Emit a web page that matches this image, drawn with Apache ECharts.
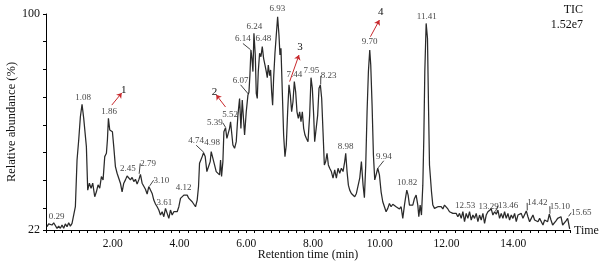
<!DOCTYPE html>
<html>
<head>
<meta charset="utf-8">
<script src="https://cdn.jsdelivr.net/npm/echarts@6/dist/echarts.min.js"></script>
<style>
  html, body { margin: 0; background: #fff; }
  #chart { width: 600px; height: 270px; }
</style>
</head>
<body>
<div id="chart"></div>
<script>
// TIC trace (min, %)
const retentionTime = [
  0.03, 0.08, 0.13, 0.18, 0.23, 0.28, 0.33, 0.38, 0.43, 0.48, 0.53, 0.58, 0.63, 0.68, 0.73, 0.78, 0.83,
  0.88, 0.93, 0.98, 1.03, 1.08, 1.13, 1.17, 1.21, 1.25, 1.30, 1.35, 1.40, 1.46, 1.51, 1.56, 1.61, 1.66,
  1.71, 1.76, 1.81, 1.84, 1.87, 1.91, 1.95, 1.99, 2.03, 2.08, 2.13, 2.18, 2.23, 2.28, 2.33, 2.38, 2.43,
  2.48, 2.53, 2.58, 2.63, 2.68, 2.73, 2.78, 2.83, 2.88, 2.93, 2.98, 3.03, 3.08, 3.13, 3.18, 3.23, 3.28,
  3.33, 3.38, 3.43, 3.48, 3.53, 3.58, 3.63, 3.68, 3.73, 3.78, 3.83, 3.88, 3.93, 3.98, 4.03, 4.08, 4.13,
  4.18, 4.23, 4.28, 4.33, 4.38, 4.43, 4.48, 4.53, 4.57, 4.60, 4.64, 4.68, 4.72, 4.77, 4.82, 4.87, 4.92,
  4.95, 5.00, 5.05, 5.10, 5.15, 5.20, 5.23, 5.26, 5.30, 5.33, 5.38, 5.42, 5.46, 5.50, 5.53, 5.57, 5.60,
  5.65, 5.70, 5.75, 5.80, 5.84, 5.88, 5.92, 5.95, 6.00, 6.05, 6.08, 6.11, 6.14, 6.17, 6.20, 6.23, 6.27,
  6.30, 6.33, 6.36, 6.40, 6.44, 6.48, 6.52, 6.56, 6.60, 6.63, 6.66, 6.70, 6.73, 6.76, 6.79, 6.82, 6.86,
  6.90, 6.94, 6.98, 7.01, 7.04, 7.08, 7.12, 7.16, 7.20, 7.24, 7.28, 7.32, 7.36, 7.40, 7.44, 7.48, 7.52,
  7.56, 7.60, 7.64, 7.68, 7.72, 7.76, 7.80, 7.85, 7.90, 7.94, 7.98, 8.02, 8.05, 8.10, 8.14, 8.18, 8.22,
  8.26, 8.30, 8.34, 8.38, 8.42, 8.46, 8.50, 8.55, 8.60, 8.65, 8.70, 8.75, 8.80, 8.85, 8.90, 8.95, 8.98,
  9.02, 9.06, 9.10, 9.15, 9.20, 9.25, 9.30, 9.35, 9.40, 9.45, 9.50, 9.54, 9.58, 9.62, 9.66, 9.70, 9.73,
  9.77, 9.81, 9.85, 9.89, 9.94, 9.99, 10.04, 10.09, 10.14, 10.19, 10.24, 10.29, 10.34, 10.39, 10.44,
  10.49, 10.54, 10.59, 10.64, 10.69, 10.74, 10.77, 10.81, 10.85, 10.89, 10.94, 10.99, 11.04, 11.09,
  11.14, 11.17, 11.21, 11.25, 11.29, 11.32, 11.35, 11.39, 11.43, 11.46, 11.49, 11.52, 11.55, 11.59,
  11.64, 11.69, 11.74, 11.79, 11.84, 11.89, 11.94, 11.99, 12.04, 12.09, 12.14, 12.19, 12.24, 12.29,
  12.34, 12.39, 12.44, 12.49, 12.54, 12.59, 12.64, 12.69, 12.74, 12.79, 12.84, 12.89, 12.94, 12.99,
  13.04, 13.09, 13.14, 13.19, 13.24, 13.29, 13.34, 13.39, 13.44, 13.49, 13.54, 13.59, 13.64, 13.69,
  13.74, 13.79, 13.84, 13.89, 13.94, 13.99, 14.04, 14.09, 14.14, 14.19, 14.24, 14.29, 14.34, 14.39,
  14.44, 14.49, 14.54, 14.59, 14.64, 14.69, 14.74, 14.79, 14.84, 14.89, 14.94, 14.99, 15.03, 15.08,
  15.13, 15.18, 15.23, 15.28, 15.33, 15.38, 15.43, 15.48, 15.53, 15.58, 15.63, 15.68, 15.69
];
const abundance = [
  23.2, 24.2, 24.6, 23.8, 24.6, 24.4, 22.6, 23.4, 22.6, 23.8, 22.6, 24.2, 23.2, 24.6, 23.4, 24.4, 23.8,
  30.4, 47.3, 54.5, 62.9, 67.4, 62.3, 62.0, 52.1, 36.4, 38.9, 37.1, 38.9, 34.0, 35.8, 38.3, 37.1, 41.3,
  40.1, 48.5, 49.7, 54.5, 62.3, 58.1, 58.7, 57.5, 52.1, 44.9, 42.5, 40.7, 38.9, 35.8, 38.9, 40.1, 41.5,
  41.9, 40.1, 41.0, 39.5, 40.3, 38.6, 40.1, 42.1, 38.9, 38.3, 36.7, 35.0, 37.7, 37.9, 35.2, 32.8, 31.4,
  30.4, 29.2, 27.4, 28.6, 26.8, 29.8, 28.0, 26.2, 29.2, 27.4, 28.6, 28.0, 28.6, 30.4, 33.4, 32.8, 34.6,
  34.0, 34.6, 33.4, 34.0, 32.2, 31.6, 30.4, 32.8, 37.7, 46.1, 47.3, 48.5, 49.9, 48.5, 43.1, 42.5, 46.7,
  50.3, 49.7, 45.5, 43.1, 43.7, 41.9, 47.3, 41.3, 46.7, 57.5, 58.9, 55.1, 56.9, 58.7, 61.1, 56.3, 52.7,
  51.5, 53.9, 63.5, 69.5, 58.7, 68.9, 69.5, 56.3, 64.7, 70.7, 71.7, 78.0, 87.0, 84.0, 79.2, 93.0, 85.2,
  71.3, 69.5, 79.2, 85.8, 84.6, 88.2, 84.0, 81.6, 79.2, 77.0, 81.6, 77.7, 79.8, 71.9, 67.1, 76.8, 85.8,
  92.4, 99.0, 92.4, 85.2, 87.6, 71.9, 56.3, 48.5, 52.7, 64.7, 74.4, 70.7, 64.7, 68.3, 75.6, 71.9, 64.7,
  62.3, 64.7, 61.1, 64.7, 58.7, 56.3, 55.1, 53.9, 63.5, 77.0, 73.2, 63.5, 53.9, 54.5, 63.5, 73.2, 74.4,
  69.5, 57.5, 45.5, 46.7, 49.7, 45.5, 44.3, 43.1, 40.7, 43.7, 40.7, 44.3, 42.5, 44.3, 43.1, 46.7, 49.7,
  43.1, 38.2, 36.4, 35.2, 34.6, 34.0, 35.2, 35.8, 40.7, 46.7, 38.2, 33.7, 45.5, 64.7, 79.2, 87.0, 81.6,
  67.1, 49.1, 40.1, 41.9, 44.3, 41.9, 35.8, 32.2, 31.6, 28.6, 29.8, 31.6, 30.4, 31.3, 31.6,
  30.4, 31.0, 29.6, 30.4, 26.2, 31.0, 33.4, 36.4, 34.6, 31.0, 31.6, 31.0, 33.4, 34.6,
  31.0, 26.8, 31.0, 27.4, 38.2, 55.1, 79.2, 96.6, 91.2, 67.1, 45.5, 40.7, 35.8, 31.0,
  29.8, 29.2, 30.4, 29.8, 30.4, 29.6, 31.0, 30.3, 29.6, 28.6, 29.2, 28.0, 27.4, 28.0,
  26.8, 28.0, 26.2, 28.6, 25.0, 28.0, 26.2, 28.6, 25.6, 27.4, 26.2, 28.0, 25.0, 27.4,
  25.6, 28.0, 24.4, 27.4, 28.6, 28.0, 29.6, 27.4, 28.6, 27.7, 29.2, 26.2, 28.0, 26.2,
  28.6, 26.2, 28.0, 25.6, 27.4, 26.2, 28.0, 25.0, 27.4, 26.8, 28.0, 26.2, 26.8, 28.9,
  26.8, 25.0, 26.2, 27.4, 25.6, 26.2, 25.0, 26.2, 25.6, 23.8, 25.6, 26.2, 25.0, 27.7,
  25.6, 23.8, 24.4, 25.3, 26.2, 25.6, 26.8, 23.8, 24.4, 25.3, 26.2, 26.8, 22.4
];

// labelled peaks: retention time and apex height
const peakTimes = [0.29, 1.08, 1.86, 2.45, 2.79, 3.10, 3.61, 4.12, 4.74, 4.98, 5.39, 5.52, 6.07, 6.14,
  6.24, 6.48, 6.93, 7.44, 7.95, 8.23, 8.98, 9.70, 9.94, 10.82, 11.41, 12.53, 13.29, 13.46, 14.42, 15.10, 15.65];
const peakHeights = [24.6, 67.4, 62.3, 41.7, 42.1, 37.8, 29.5, 34.6, 49.9, 50.3, 58.9, 61.1, 71.0, 87.0,
  93.0, 88.2, 99.0, 75.6, 77.0, 74.4, 49.7, 87.0, 44.3, 36.4, 96.6, 28.2, 28.0, 28.6, 28.9, 27.7, 26.8];

// numbered red arrows
const arrowNames = ['1', '2', '3', '4'];
const arrowFrom = [[1.97, 67.1], [5.38, 66.4], [7.30, 75.6], [9.72, 91.8]];
const arrowTo = [[2.27, 71.5], [5.10, 70.8], [7.58, 85.2], [9.99, 97.8]];

const xTickLabels = [2, 4, 6, 8, 10, 12, 14];
const yTickLabels = [22, 100];
const yTicks = [22, 30, 40, 50, 60, 70, 80, 90, 100];

// where each peak label sits relative to its apex (px), and which get a leader line
const labelOffset = [[1, -6], [1, -7], [1, -7], [0, -7], [9, -11], [12, -6], [-2, -7], [0, -7], [-8, -12],
  [0, -9], [-11, -5], [0, -7], [-8, -14], [-8, -11], [0, -7], [1, -8], [0, -8], [0, -7], [0, -7], [8, -9],
  [0, -7], [0, -8], [6, -12], [0, -7], [0, -7], [1, -7], [-1, -7], [13, -6], [10, -8], [10, -8], [13, -4]];
const leader = [4, 5, 8, 10, 12, 13, 19, 22, 27, 28, 29, 30];

const serif = 'Liberation Serif';
const ink = '#111';

const chart = echarts.init(document.getElementById('chart'));

chart.setOption({
  animation: false,
  grid: { left: 46, right: 30, top: 14, bottom: 40, containLabel: false, outerBoundsMode: 'none' },
  xAxis: {
    type: 'value',
    min: 0,
    max: 15.7,
    interval: 0.25,
    name: 'Retention time (min)',
    nameLocation: 'middle',
    nameGap: 19,
    nameMoveOverlap: false,
    nameTextStyle: { fontFamily: serif, fontSize: 12, color: ink },
    splitLine: { show: false },
    axisLine: { lineStyle: { color: '#000', width: 1 } },
    axisTick: { length: 3, lineStyle: { color: '#000' } },
    axisLabel: {
      customValues: xTickLabels,
      formatter: v => v.toFixed(2),
      margin: 8,
      fontFamily: serif,
      fontSize: 11.5,
      color: ink
    }
  },
  yAxis: {
    type: 'value',
    min: 22,
    max: 100,
    name: 'Relative abundance (%)',
    nameLocation: 'middle',
    nameGap: 28,
    nameMoveOverlap: false,
    nameTextStyle: { fontFamily: serif, fontSize: 12.5, color: ink },
    splitLine: { show: false },
    axisLine: { show: true, lineStyle: { color: '#000', width: 1 } },
    axisTick: { show: true, length: 3, customValues: yTicks, lineStyle: { color: '#000' } },
    axisLabel: {
      customValues: yTickLabels,
      margin: 6,
      fontFamily: serif,
      fontSize: 12,
      color: ink
    }
  },
  graphic: [
    { type: 'text', x: 583, y: 10, style: { text: 'TIC', align: 'right', verticalAlign: 'middle', font: '12px "Liberation Serif"', fill: ink } },
    { type: 'text', x: 583, y: 25, style: { text: '1.52e7', align: 'right', verticalAlign: 'middle', font: '12px "Liberation Serif"', fill: ink } },
    { type: 'text', x: 574, y: 231, style: { text: 'Time', align: 'left', verticalAlign: 'middle', font: '12px "Liberation Serif"', fill: ink } }
  ],
  series: [
    {
      type: 'line',
      data: retentionTime.map((t, i) => [t, abundance[i]]),
      showSymbol: false,
      lineStyle: { color: '#2a2a2a', width: 1.25 },
      z: 2,
      markLine: {
        silent: true,
        symbol: ['none', 'arrow'],
        symbolSize: 5,
        lineStyle: { color: '#c8282c', width: 1, type: 'solid' },
        label: {
          show: true,
          position: 'end',
          distance: 3,
          formatter: '{b}',
          fontFamily: serif,
          fontSize: 11,
          color: ink
        },
        data: arrowNames.map((n, i) => [
          { name: n, coord: arrowFrom[i] },
          { coord: arrowTo[i] }
        ])
      }
    },
    {
      type: 'scatter',
      symbolSize: 1,
      itemStyle: { color: 'rgba(0,0,0,0)' },
      z: 3,
      data: peakTimes.map((t, i) => ({
        value: [t, peakHeights[i]],
        labelLine: { show: leader.includes(i) }
      })),
      label: {
        show: true,
        position: 'inside',
        formatter: p => p.value[0].toFixed(2),
        fontFamily: serif,
        fontSize: 9,
        color: ink
      },
      labelLine: { show: false, lineStyle: { color: ink, width: 0.8 } },
      labelLayout: p => ({ dx: labelOffset[p.dataIndex][0], dy: labelOffset[p.dataIndex][1] })
    }
  ]
});
</script>
</body>
</html>
